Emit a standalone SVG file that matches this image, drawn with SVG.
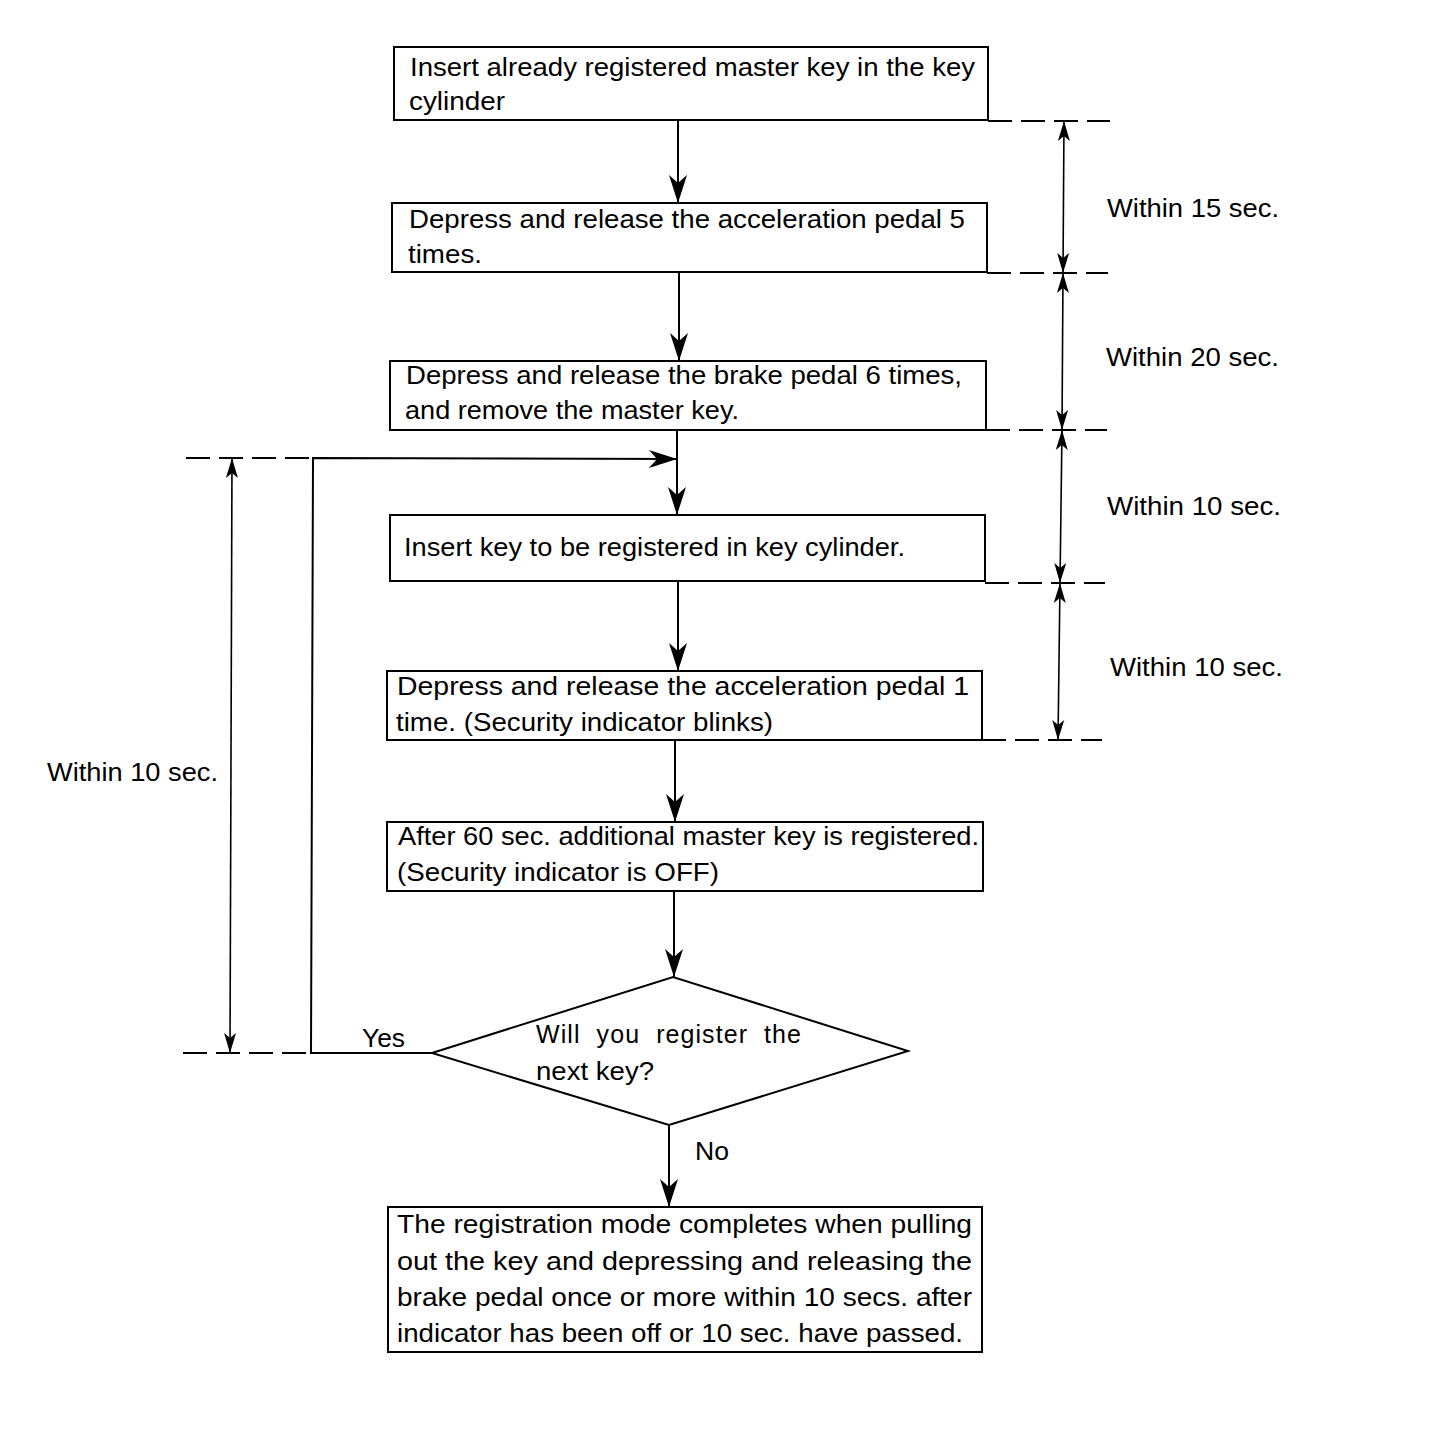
<svg xmlns="http://www.w3.org/2000/svg" width="1440" height="1448" viewBox="0 0 1440 1448">
<style>
text{font-family:"Liberation Sans",Arial,sans-serif;font-size:25px;fill:#000}
.box{fill:#fff;stroke:#000;stroke-width:2}
.ln{fill:none;stroke:#000;stroke-width:2}
.dim{fill:none;stroke:#000;stroke-width:1.6}
.dash{fill:none;stroke:#000;stroke-width:2;stroke-dasharray:24 9}
</style>
<defs>
<marker id="ah" markerUnits="userSpaceOnUse" markerWidth="32" markerHeight="22" viewBox="-30 -11 32 22" refX="0" refY="0" orient="auto">
<path d="M0,0 L-28,-9 L-20,0 L-28,9 Z" fill="#000"/>
</marker>
<marker id="dh" markerUnits="userSpaceOnUse" markerWidth="24" markerHeight="14" viewBox="-22 -7 24 14" refX="0" refY="0" orient="auto-start-reverse">
<path d="M0,0 L-20,-6 L-15,0 L-20,6 Z" fill="#000"/>
</marker>
</defs>

<g id="connectors">
<line class="ln" x1="678" y1="120" x2="678" y2="203" marker-end="url(#ah)"/>
<line class="ln" x1="679" y1="272" x2="679" y2="361" marker-end="url(#ah)"/>
<line class="ln" x1="677" y1="430" x2="677" y2="515" marker-end="url(#ah)"/>
<line class="ln" x1="678" y1="581" x2="678" y2="671" marker-end="url(#ah)"/>
<line class="ln" x1="675" y1="740" x2="675" y2="822" marker-end="url(#ah)"/>
<line class="ln" x1="674" y1="891" x2="674" y2="977" marker-end="url(#ah)"/>
<line class="ln" x1="669" y1="1125" x2="669" y2="1207" marker-end="url(#ah)"/>
<polyline class="ln" points="432,1053 311,1053 313,458 677,459" marker-end="url(#ah)"/>
</g>

<g id="dimensions">
<line class="dash" x1="988" y1="121" x2="1110" y2="121"/>
<line class="dash" x1="987" y1="273" x2="1108" y2="273"/>
<line class="dash" x1="986" y1="430" x2="1107" y2="430"/>
<line class="dash" x1="985" y1="583" x2="1105" y2="583"/>
<line class="dash" x1="982" y1="740" x2="1102" y2="740"/>
<line class="dim" x1="1064" y1="121" x2="1063" y2="273" marker-start="url(#dh)" marker-end="url(#dh)"/>
<line class="dim" x1="1063" y1="273" x2="1062" y2="430" marker-start="url(#dh)" marker-end="url(#dh)"/>
<line class="dim" x1="1062" y1="430" x2="1060" y2="583" marker-start="url(#dh)" marker-end="url(#dh)"/>
<line class="dim" x1="1060" y1="583" x2="1058" y2="740" marker-start="url(#dh)" marker-end="url(#dh)"/>
<line class="dash" x1="186" y1="458" x2="312" y2="458"/>
<line class="dash" x1="183" y1="1053" x2="311" y2="1053"/>
<line class="dim" x1="232" y1="458" x2="230" y2="1053" marker-start="url(#dh)" marker-end="url(#dh)"/>
<text x="1107" y="217" textLength="172" lengthAdjust="spacingAndGlyphs">Within 15 sec.</text>
<text x="1106" y="366" textLength="173" lengthAdjust="spacingAndGlyphs">Within 20 sec.</text>
<text x="1107" y="515" textLength="174" lengthAdjust="spacingAndGlyphs">Within 10 sec.</text>
<text x="1110" y="676" textLength="173" lengthAdjust="spacingAndGlyphs">Within 10 sec.</text>
<text x="47" y="781" textLength="171" lengthAdjust="spacingAndGlyphs">Within 10 sec.</text>
</g>

<g id="n1">
<rect class="box" x="394" y="47" width="594" height="73"/>
<text x="410" y="76" textLength="565" lengthAdjust="spacingAndGlyphs">Insert already registered master key in the key</text>
<text x="409" y="110" textLength="96" lengthAdjust="spacingAndGlyphs">cylinder</text>
</g>
<g id="n2">
<rect class="box" x="392" y="203" width="595" height="69"/>
<text x="409" y="228" textLength="556" lengthAdjust="spacingAndGlyphs">Depress and release the acceleration pedal 5</text>
<text x="408" y="263" textLength="74" lengthAdjust="spacingAndGlyphs">times.</text>
</g>
<g id="n3">
<rect class="box" x="390" y="361" width="596" height="69"/>
<text x="406" y="384" textLength="556" lengthAdjust="spacingAndGlyphs">Depress and release the brake pedal 6 times,</text>
<text x="405" y="419" textLength="334" lengthAdjust="spacingAndGlyphs">and remove the master key.</text>
</g>
<g id="n4">
<rect class="box" x="390" y="515" width="595" height="66"/>
<text x="404" y="556" textLength="501" lengthAdjust="spacingAndGlyphs">Insert key to be registered in key cylinder.</text>
</g>
<g id="n5">
<rect class="box" x="387" y="671" width="595" height="69"/>
<text x="397" y="695" textLength="572" lengthAdjust="spacingAndGlyphs">Depress and release the acceleration pedal 1</text>
<text x="396" y="731" textLength="377" lengthAdjust="spacingAndGlyphs">time. (Security indicator blinks)</text>
</g>
<g id="n6">
<rect class="box" x="387" y="822" width="596" height="69"/>
<text x="398" y="845" textLength="581" lengthAdjust="spacingAndGlyphs">After 60 sec. additional master key is registered.</text>
<text x="397" y="881" textLength="322" lengthAdjust="spacingAndGlyphs">(Security indicator is OFF)</text>
</g>
<g id="n7">
<polygon class="box" points="432,1053 673,977 908,1051 669,1125"/>
<text x="536" y="1043" textLength="265" lengthAdjust="spacing" style="word-spacing:8px">Will you register the</text>
<text x="536" y="1080" textLength="118" lengthAdjust="spacingAndGlyphs">next key?</text>
</g>
<g id="n8">
<rect class="box" x="388" y="1207" width="594" height="145"/>
<text x="397" y="1233" textLength="575" lengthAdjust="spacingAndGlyphs">The registration mode completes when pulling</text>
<text x="397" y="1270" textLength="575" lengthAdjust="spacingAndGlyphs">out the key and depressing and releasing the</text>
<text x="397" y="1306" textLength="575" lengthAdjust="spacingAndGlyphs">brake pedal once or more within 10 secs. after</text>
<text x="397" y="1342" textLength="566" lengthAdjust="spacingAndGlyphs">indicator has been off or 10 sec. have passed.</text>
</g>
<g id="labels">
<text x="362" y="1047" textLength="43" lengthAdjust="spacingAndGlyphs">Yes</text>
<text x="695" y="1160" textLength="34" lengthAdjust="spacingAndGlyphs">No</text>
</g>
</svg>
